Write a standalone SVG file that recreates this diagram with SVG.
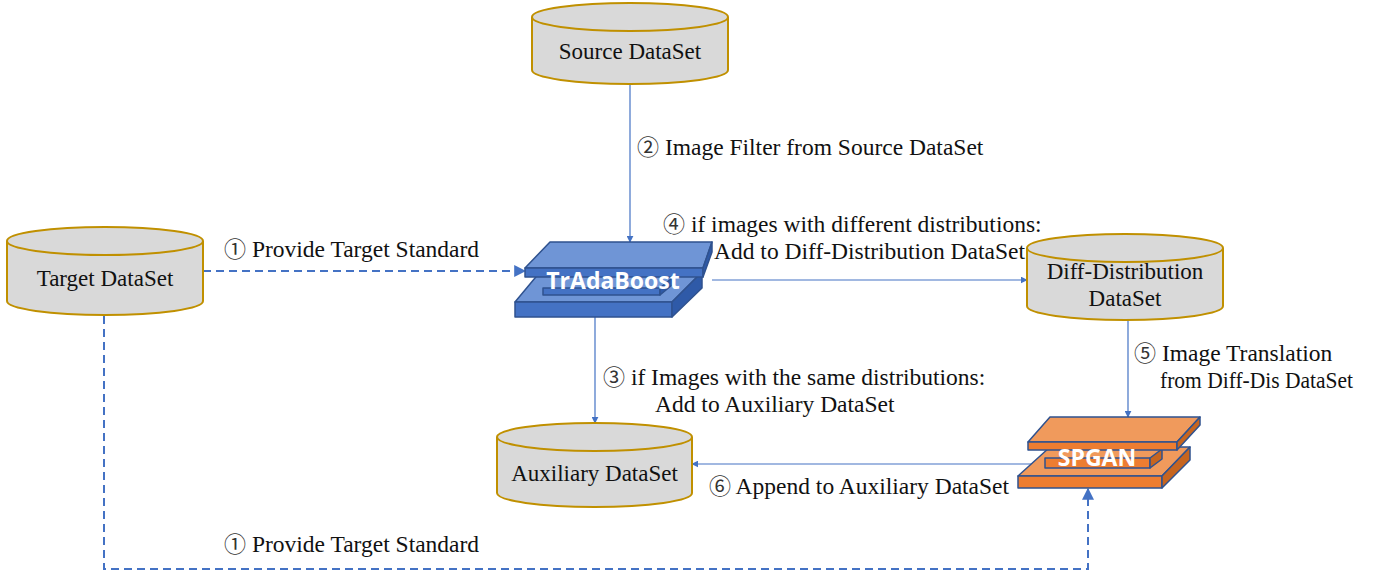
<svg xmlns="http://www.w3.org/2000/svg" width="1379" height="579" viewBox="0 0 1379 579">
<style>
.cyl{fill:#d9d9d9;stroke:#c09000;stroke-width:2}
.ct{font-family:"Liberation Serif","DejaVu Serif",serif;font-size:23px;fill:#111;text-anchor:middle}
.lb{font-family:"Liberation Serif","DejaVu Serif",serif;font-size:23.5px;fill:#111}
.cn{font-family:"Noto Sans CJK SC","DejaVu Sans",sans-serif;font-size:22px;fill:#333}
.ln{fill:none;stroke:#4472c4;stroke-width:1.2}
.dl{fill:none;stroke:#4472c4;stroke-width:2;stroke-dasharray:8 5}
.bt{fill:#6f95d6;stroke:#2f528f;stroke-width:1.5;stroke-linejoin:round}
.bf{fill:#4472c4;stroke:#2f528f;stroke-width:1.5;stroke-linejoin:round}
.bs{fill:#2f5aa8;stroke:#2f528f;stroke-width:1.5;stroke-linejoin:round}
.ot{fill:#f09a5c;stroke:#2f528f;stroke-width:1.5;stroke-linejoin:round}
.of{fill:#ed7d31;stroke:#2f528f;stroke-width:1.5;stroke-linejoin:round}
.os{fill:#c7651f;stroke:#2f528f;stroke-width:1.5;stroke-linejoin:round}
.wt{font-family:"Open Sans","DejaVu Sans",sans-serif;font-weight:bold;fill:#fff;text-anchor:middle;font-size:23px}
</style>
<defs>
<marker id="ah" viewBox="0 0 10 10" refX="9" refY="5" markerWidth="7" markerHeight="7" markerUnits="userSpaceOnUse" orient="auto">
<path d="M0,0 L10,5 L0,10 z" fill="#4472c4"/>
</marker>
<marker id="ahd" viewBox="0 0 10 10" refX="9" refY="5" markerWidth="6" markerHeight="6" orient="auto">
<path d="M0,0 L10,5 L0,10 z" fill="#4472c4"/>
</marker>
</defs>

<g id="connectors">
<path class="ln" d="M630,85 L630,242" marker-end="url(#ah)"/>
<path class="dl" d="M203,271 L525,271" marker-end="url(#ahd)"/>
<path class="ln" d="M712,280 L1027,280" marker-end="url(#ah)"/>
<path class="ln" d="M595,317 L595,423" marker-end="url(#ah)"/>
<path class="ln" d="M1128,320 L1128,417" marker-end="url(#ah)"/>
<path class="ln" d="M1045,464 L692,464" marker-end="url(#ah)"/>
<path class="dl" d="M104,316 L104,569 L1088,569 L1088,489" marker-end="url(#ahd)"/>
</g>

<g id="source">
<path class="cyl" d="M532,17 L532,70 A98,14 0 0 0 728,70 L728,17"/>
<ellipse class="cyl" cx="630" cy="17" rx="98" ry="14"/>
<text class="ct" x="630" y="59">Source DataSet</text>
</g>

<g id="target">
<path class="cyl" d="M7,241 L7,301 A98,14 0 0 0 203,301 L203,241"/>
<ellipse class="cyl" cx="105" cy="241" rx="98" ry="14"/>
<text class="ct" x="105" y="286">Target DataSet</text>
</g>

<g id="diff">
<path class="cyl" d="M1027,248 L1027,306 A98,14 0 0 0 1223,306 L1223,248"/>
<ellipse class="cyl" cx="1125" cy="248" rx="98" ry="14"/>
<text class="ct" x="1125" y="279">Diff-Distribution</text>
<text class="ct" x="1125" y="306">DataSet</text>
</g>

<g id="auxiliary">
<path class="cyl" d="M497,437 L497,493 A97.5,14 0 0 0 692,493 L692,437"/>
<ellipse class="cyl" cx="594.5" cy="437" rx="97.5" ry="14"/>
<text class="ct" x="594.5" y="481">Auxiliary DataSet</text>
</g>

<g id="tradaboost">
<polygon class="bt" points="540,272 702,272 672,302 515,302"/>
<polygon class="bf" points="515,302 672,302 672,317 515,317"/>
<polygon class="bs" points="672,302 702,272 702,288 672,317"/>
<polygon class="bf" points="543,288 660,288 660,295 543,295"/>
<polygon class="bs" points="660,288 672,278 672,285 660,295"/>
<polygon class="bt" points="550,242 712,242 703,268 525,268"/>
<polygon class="bf" points="525,268 703,268 703,277 525,277"/>
<polygon class="bs" points="703,268 712,242 712,252 703,277"/>
<text class="wt" x="613" y="289">TrAdaBoost</text>
</g>

<g id="spgan">
<polygon class="ot" points="1050,447 1190,447 1162,476 1018,476"/>
<polygon class="of" points="1018,476 1162,476 1162,488 1018,488"/>
<polygon class="os" points="1162,476 1190,447 1190,460 1162,488"/>
<polygon class="of" points="1045,458 1150,458 1150,468 1045,468"/>
<polygon class="os" points="1150,458 1162,449 1162,459 1150,468"/>
<polygon class="ot" points="1050,417 1200,417 1177,442 1028,442"/>
<polygon class="of" points="1028,442 1177,442 1177,450 1028,450"/>
<polygon class="os" points="1177,442 1200,417 1200,425 1177,450"/>
<text class="wt" x="1097" y="466">SPGAN</text>
</g>

<g id="labels">
<text class="lb" x="637" y="155"><tspan class="cn">②</tspan> Image Filter from Source DataSet</text>
<text class="lb" x="663" y="232"><tspan class="cn">④</tspan> if images with different distributions:</text>
<text class="lb" x="714" y="259">Add to Diff-Distribution DataSet</text>
<text class="lb" x="224" y="257"><tspan class="cn">①</tspan> Provide Target Standard</text>
<text class="lb" x="603" y="385"><tspan class="cn">③</tspan> if Images with the same distributions:</text>
<text class="lb" x="655" y="412">Add to Auxiliary DataSet</text>
<text class="lb" x="1134" y="361"><tspan class="cn">⑤</tspan> Image Translation</text>
<text class="lb" x="1160" y="388" textLength="193" lengthAdjust="spacingAndGlyphs">from Diff-Dis DataSet</text>
<text class="lb" x="709" y="494"><tspan class="cn">⑥</tspan> Append to Auxiliary DataSet</text>
<text class="lb" x="224" y="552"><tspan class="cn">①</tspan> Provide Target Standard</text>
</g>
</svg>
